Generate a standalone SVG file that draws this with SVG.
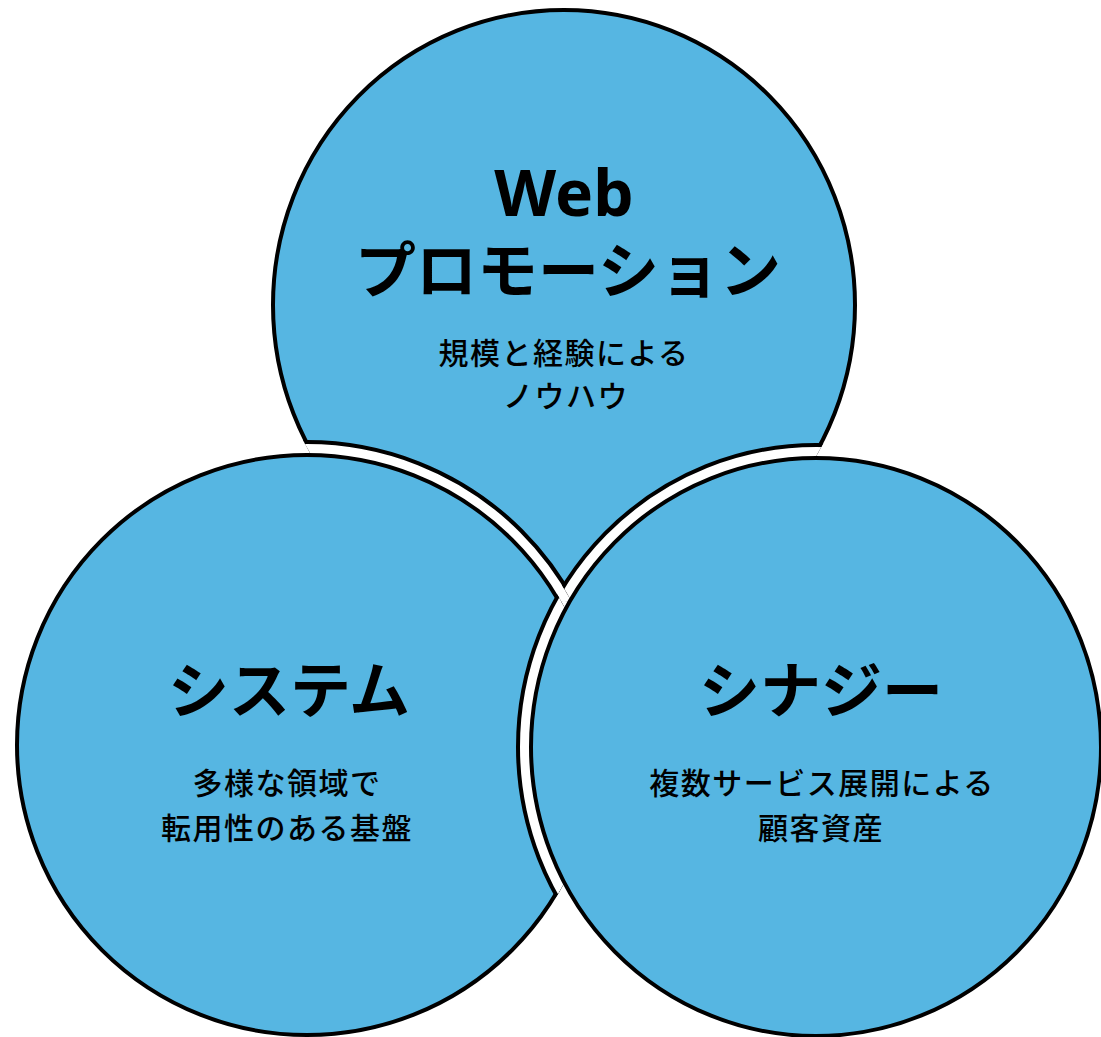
<svg xmlns="http://www.w3.org/2000/svg" width="1101" height="1037" viewBox="0 0 1101 1037">
  <style>
    .disc { fill: #56B6E2; stroke: #000; stroke-width: 4; }
    .halo { fill: #fff; stroke: #000; stroke-width: 4; }
    .title { font-family: "Noto Sans CJK JP", "Noto Sans", sans-serif; font-weight: 700; font-size: 61px; fill: #000; text-anchor: middle; }
    .latin { font-family: "Noto Sans", "Noto Sans CJK JP", sans-serif; font-weight: 700; font-size: 64px; fill: #000; text-anchor: middle; }
    .sub { font-family: "Noto Sans CJK JP", sans-serif; font-weight: 500; font-size: 30px; letter-spacing: 1.5px; fill: #000; text-anchor: middle; }
  </style>
  <defs>
    <clipPath id="clipT">
      <ellipse cx="564" cy="305" rx="293" ry="297"/>
    </clipPath>
    <mask id="maskR" maskUnits="userSpaceOnUse" x="0" y="0" width="1101" height="1037">
      <ellipse cx="564" cy="305" rx="293" ry="297" fill="#fff"/>
      <circle cx="307" cy="745" r="292" fill="#fff"/>
      <circle cx="307" cy="745" r="296.5" fill="none" stroke="#000" stroke-width="9"/>
    </mask>
  </defs>
  <rect width="1101" height="1037" fill="#fff"/>

  <g id="node-web">
    <ellipse class="disc" cx="564" cy="305" rx="291" ry="295"/>
  </g>

  <g id="node-system">
    <circle class="halo" cx="307" cy="745" r="303" clip-path="url(#clipT)"/>
    <circle class="disc" cx="307" cy="745" r="290"/>
  </g>

  <g id="node-synergy">
    <ellipse class="halo" cx="816" cy="747" rx="298" ry="302" mask="url(#maskR)"/>
    <ellipse class="disc" cx="816" cy="747" rx="285" ry="289"/>
  </g>

  <g id="connectors"/>

  <g id="labels-web">
    <text class="latin" x="564" y="216">Web</text>
    <text class="title" x="568" y="293">プロモーション</text>
    <text class="sub" x="564" y="364">規模と経験による</text>
    <text class="sub" x="566" y="407">ノウハウ</text>
  </g>
  <g id="labels-system">
    <text class="title" x="289" y="713">システム</text>
    <text class="sub" x="287" y="794">多様な領域で</text>
    <text class="sub" x="287" y="839">転用性のある基盤</text>
  </g>
  <g id="labels-synergy">
    <text class="title" x="821" y="713">シナジー</text>
    <text class="sub" x="822" y="794">複数サービス展開による</text>
    <text class="sub" x="821" y="839">顧客資産</text>
  </g>
</svg>
